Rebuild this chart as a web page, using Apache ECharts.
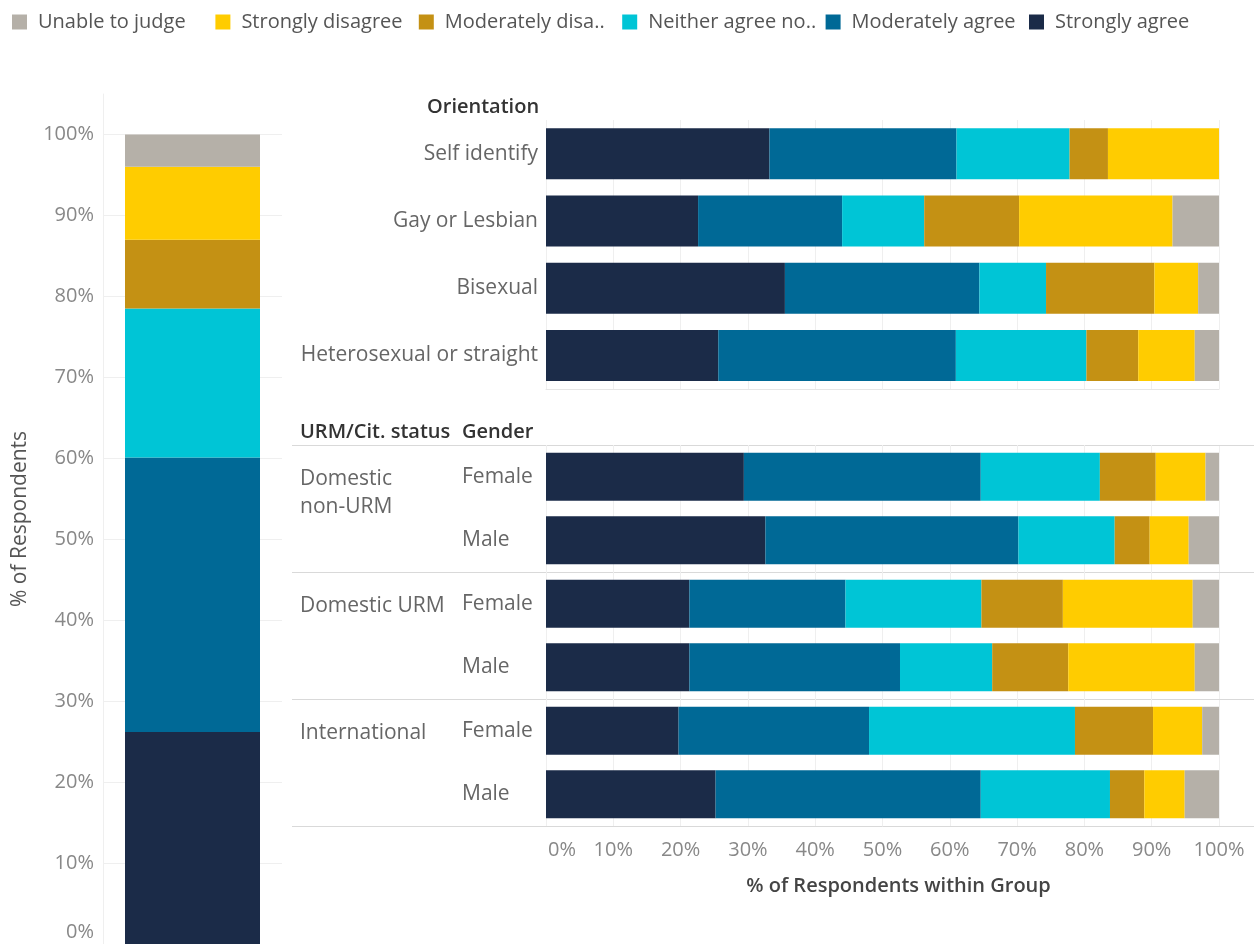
<!DOCTYPE html>
<html>
<head>
<meta charset="utf-8">
<script src="https://cdn.jsdelivr.net/npm/echarts@6/dist/echarts.min.js"></script>
<style>
  html, body { margin: 0; padding: 0; background: #fff; }
  #chart { width: 1254px; height: 944px; }
</style>
</head>
<body>
<div id="chart"></div>
<script>
// response levels in stacking order (left to right, bottom to top)
const levels = ['Strongly agree', 'Moderately agree', 'Neither agree nor disagree', 'Moderately disagree', 'Strongly disagree', 'Unable to judge']
const levelColors = ['#1b2b48', '#006996', '#00c5d6', '#c49114', '#ffcc00', '#b5b0a8']
const legendOrder = levels.slice().reverse()
// legend text as shown (long names are cut off in the legend)
const legendLabels = ['Unable to judge', 'Strongly disagree', 'Moderately disa..', 'Neither agree no..', 'Moderately agree', 'Strongly agree']

// left column: all respondents, one value per level
const overall = [26.2, 33.9, 18.4, 8.5, 9.0, 4.0]
const leftTicks = [0, 10, 20, 30, 40, 50, 60, 70, 80, 90, 100]

// orientation panel
const orientations = ['Self identify', 'Gay or Lesbian', 'Bisexual', 'Heterosexual or straight']
const orientStronglyAgree = [33.2, 22.6, 35.5, 25.6]
const orientModAgree = [27.8, 21.4, 28.9, 35.3]
const orientNeither = [16.8, 12.2, 9.9, 19.4]
const orientModDisagree = [5.7, 14.1, 16.1, 7.7]
const orientStronglyDisagree = [16.5, 22.8, 6.5, 8.4]
const orientUnable = [0, 6.9, 3.1, 3.6]

// URM/citizenship status x gender panel
const groups = ['Domestic\nnon-URM', 'Domestic URM', 'International']
const genders = ['Female', 'Male']
const groupStronglyAgree = [29.4, 32.6, 21.3, 21.3, 19.7, 25.2]
const groupModAgree = [35.2, 37.6, 23.2, 31.3, 28.3, 39.4]
const groupNeither = [17.7, 14.3, 20.2, 13.7, 30.6, 19.2]
const groupModDisagree = [8.3, 5.2, 12.1, 11.3, 11.6, 5.1]
const groupStronglyDisagree = [7.4, 5.8, 19.3, 18.8, 7.3, 6.0]
const groupUnable = [2.0, 4.5, 3.9, 3.6, 2.5, 5.1]

const orientValues = [orientStronglyAgree, orientModAgree, orientNeither, orientModDisagree, orientStronglyDisagree, orientUnable]
const groupValues = [groupStronglyAgree, groupModAgree, groupNeither, groupModDisagree, groupStronglyDisagree, groupUnable]

// one category per group/gender row
const groupRows = []
groups.forEach(g => genders.forEach(s => groupRows.push(g + '|' + s)))

const font = 'Open Sans'
const gridLine = '#efefef'
const sepLine = '#d9d9d9'
const headStyle = { fontSize: 20, fontWeight: 600, color: '#333', fontFamily: font }

const series = []
levels.forEach((lvl, i) => {
  const color = levelColors[i]
  series.push({
    name: lvl, type: 'bar', stack: 'all', xAxisIndex: 0, yAxisIndex: 0,
    barWidth: 135, itemStyle: { color: color }, data: [overall[i]]
  })
  series.push({
    name: lvl, type: 'bar', stack: 'orient', xAxisIndex: 1, yAxisIndex: 1,
    barWidth: 51, itemStyle: { color: color }, data: orientValues[i]
  })
  series.push({
    name: lvl, type: 'bar', stack: 'group', xAxisIndex: 2, yAxisIndex: 2,
    barWidth: 48, itemStyle: { color: color }, data: groupValues[i]
  })
})

// one legend block per level so the items sit in even columns
const legends = legendOrder.map((name, i) => ({
  data: [name],
  left: 7 + i * 203.4,
  top: 7,
  itemWidth: 15,
  itemHeight: 15,
  icon: 'rect',
  formatter: () => legendLabels[i],
  textStyle: { fontSize: 20, color: '#555', padding: [0, 0, 0, 6] }
}))

const pct = v => v + '%'

let chart = echarts.init(document.getElementById('chart'))
let options = {
  animation: false,
  textStyle: { fontFamily: font },
  legend: legends,
  title: [
    { text: 'Orientation', left: 422, top: 92, textStyle: headStyle },
    { text: 'URM/Cit. status', left: 295, top: 417, textStyle: headStyle },
    { text: 'Gender', left: 457, top: 417, textStyle: headStyle }
  ],
  grid: [
    { left: 103, width: 179, top: 94, height: 853 },
    { left: 546, right: 35, top: 120, height: 269 },
    { left: 546, right: 35, top: 445, height: 381 }
  ],
  xAxis: [
    {
      gridIndex: 0, type: 'category', data: ['All'],
      axisLine: { show: false }, axisTick: { show: false }, axisLabel: { show: false }
    },
    {
      gridIndex: 1, type: 'value', min: 0, max: 100, interval: 10,
      axisLine: { show: true, lineStyle: { color: '#e6e6e6' } },
      axisTick: { show: false }, axisLabel: { show: false },
      splitLine: { lineStyle: { color: gridLine } }
    },
    {
      gridIndex: 2, type: 'value', min: 0, max: 100, interval: 10,
      axisLine: { show: false }, axisTick: { show: false },
      axisLabel: {
        color: '#888', fontSize: 20, margin: 14,
        formatter: v => v === 0 ? '{z|0%}' : pct(v),
        rich: { z: { padding: [0, 0, 0, 32], fontSize: 20, color: '#888' } }
      },
      splitLine: { lineStyle: { color: gridLine } },
      name: '% of Respondents within Group',
      nameLocation: 'middle',
      nameGap: 50,
      nameTextStyle: { fontSize: 20, color: '#444', fontWeight: 600, padding: [0, 0, 0, 32] }
    }
  ],
  yAxis: [
    {
      gridIndex: 0, type: 'value', min: 0, max: 105, interval: 10,
      axisLine: { show: true, lineStyle: { color: gridLine } },
      axisTick: { show: false },
      axisLabel: {
        color: '#888', fontSize: 20, margin: 9, showMaxLabel: false,
        formatter: v => leftTicks.indexOf(v) < 0 ? '' : (v === 0 ? '{z|0%}' : pct(v)),
        rich: { z: { padding: [0, 0, 24, 0], fontSize: 20, color: '#888' } }
      },
      splitLine: { showMaxLine: false, lineStyle: { color: gridLine } },
      name: '% of Respondents',
      nameLocation: 'middle',
      nameRotate: 90,
      nameGap: 72,
      nameTextStyle: { fontSize: 21, color: '#555' }
    },
    {
      gridIndex: 1, type: 'category', data: orientations, inverse: true,
      axisLine: { show: false }, axisTick: { show: false },
      axisLabel: { color: '#666', fontSize: 21, margin: 8 }
    },
    {
      gridIndex: 2, type: 'category', data: groupRows, inverse: true, position: 'left',
      axisLine: { show: false }, axisTick: { show: false },
      axisLabel: { color: '#666', fontSize: 21, margin: 84, align: 'left', formatter: v => v.split('|')[1] }
    },
    {
      gridIndex: 2, type: 'category', data: groups, inverse: true, position: 'left',
      axisLine: { show: false },
      axisTick: { show: true, length: 254, lineStyle: { color: sepLine } },
      splitLine: { show: true, lineStyle: { color: sepLine } },
      axisLabel: {
        color: '#666', fontSize: 21, margin: 246, align: 'left', lineHeight: 28,
        // group name sits on the first (Female) row of its band: pad below with a spacer line
        formatter: v => v.indexOf('\n') < 0 ? v + '\n{s2| }' : v + '\n{s1| }',
        rich: {
          s1: { fontSize: 1, lineHeight: 31 },
          s2: { fontSize: 1, lineHeight: 59 }
        }
      }
    },
    {
      gridIndex: 2, type: 'category', data: groups, inverse: true, position: 'right',
      axisLine: { show: false },
      axisTick: { show: true, length: 35, lineStyle: { color: sepLine } },
      axisLabel: { show: false }
    }
  ],
  series: series
}
chart.setOption(options)
</script>
</body>
</html>
